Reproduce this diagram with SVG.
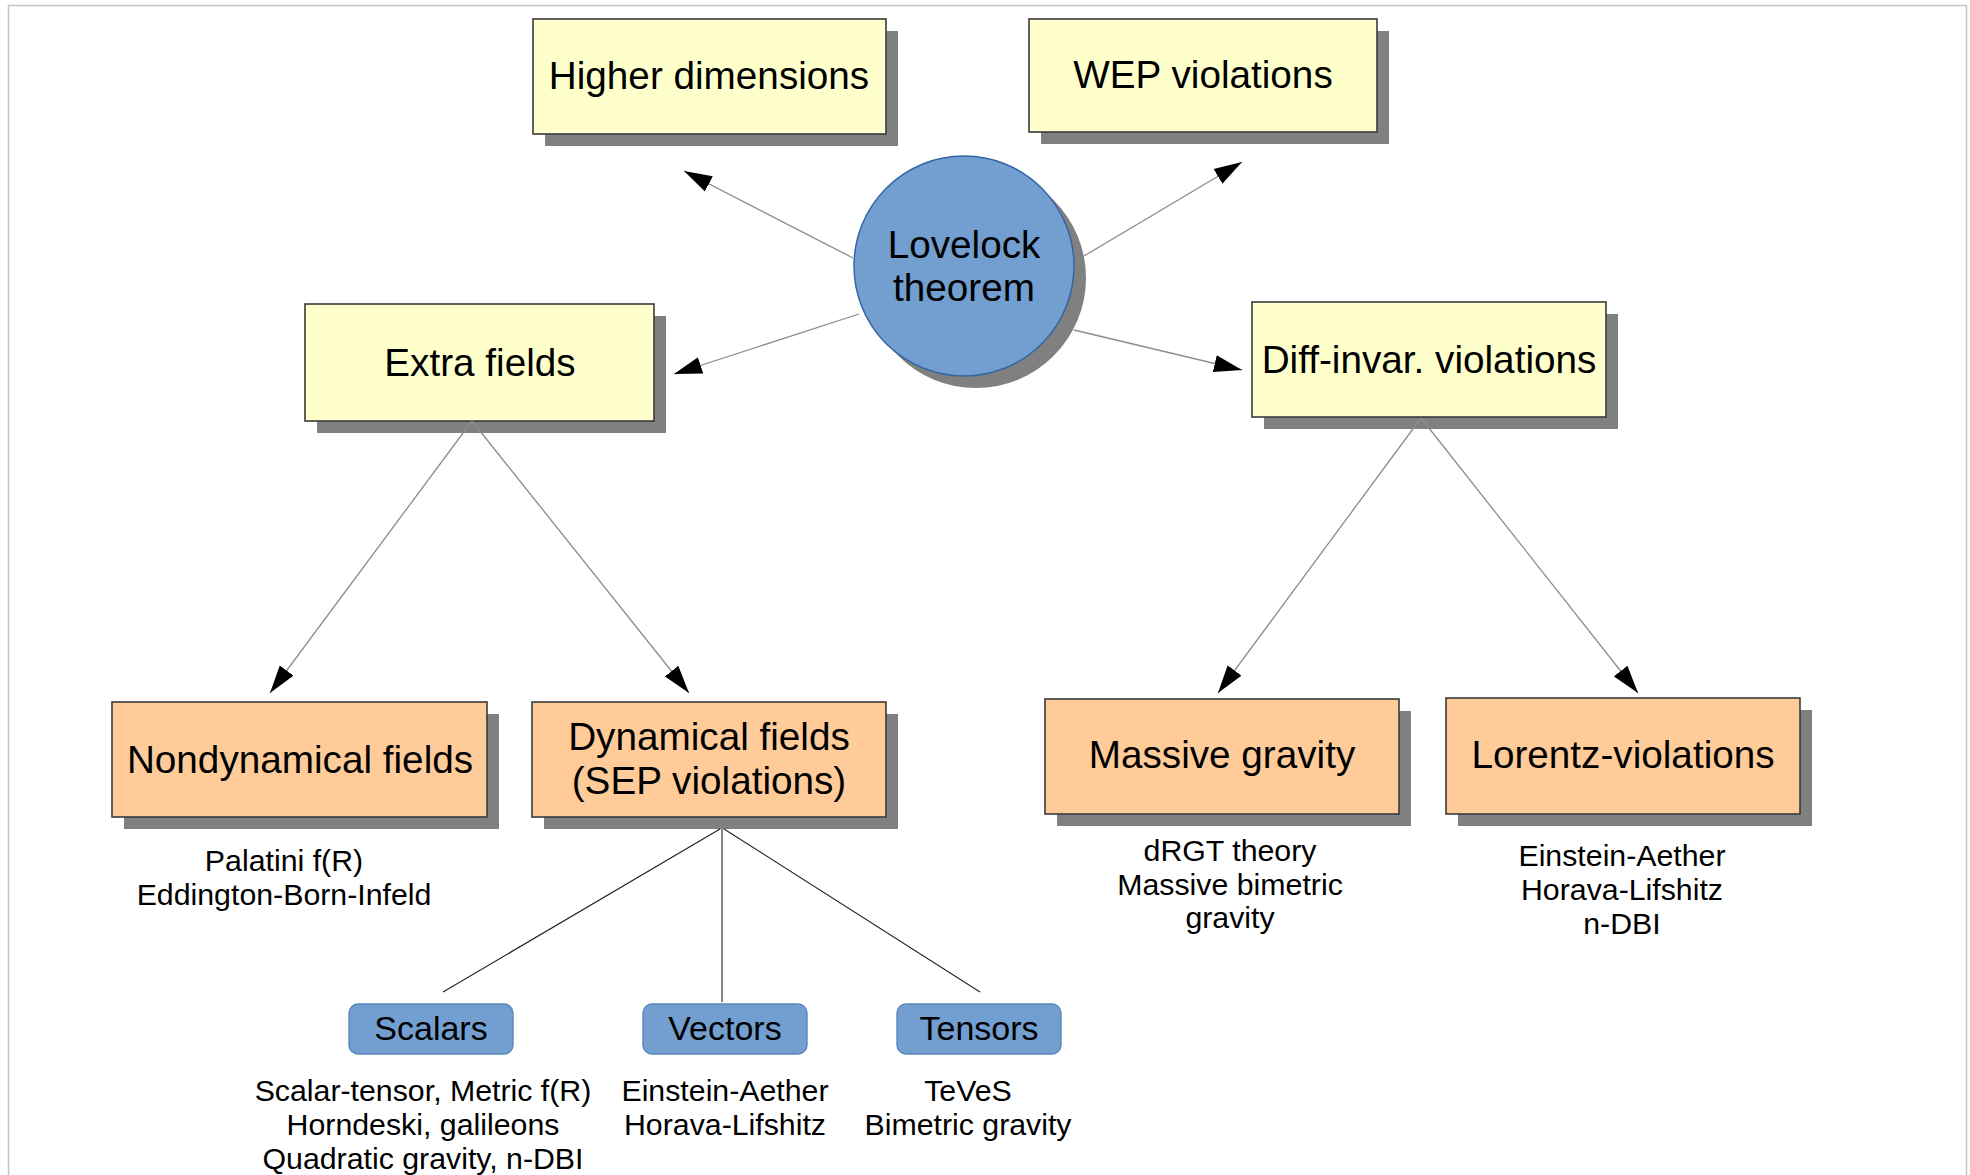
<svg xmlns="http://www.w3.org/2000/svg" width="1970" height="1175" viewBox="0 0 1970 1175">
<defs>
<style>
text{font-family:"Liberation Sans",Arial,sans-serif;fill:#000;text-anchor:middle}
.big{font-size:38.7px}
.mid{font-size:34px}
.sm{font-size:30.3px}
.shadow{fill:#808080}
.yel{fill:#ffffcc;stroke:#3a3a3a;stroke-width:1.6}
.org{fill:#ffcc99;stroke:#3a3a3a;stroke-width:1.6}
.blu{fill:#729fcf;stroke:#5b86bd;stroke-width:1.4}
.arr{stroke:#8c8c8c;stroke-width:1.3;fill:none;marker-end:url(#ah)}
.sub{stroke:#222;stroke-width:1.1;fill:none}
</style>
<marker id="ah" markerUnits="userSpaceOnUse" markerWidth="28" markerHeight="18" refX="26" refY="8" orient="auto" viewBox="0 0 26 16">
<path d="M0,0 L26,8 L0,16 z" fill="#000"/>
</marker>
</defs>
<rect width="1970" height="1175" fill="#fff"/>
<path d="M8.5,1175 V5.5 H1966.5 V1175" fill="none" stroke="#c4c4c4" stroke-width="1.5"/>

<g id="higher-dimensions">
<rect class="shadow" x="545" y="31" width="353" height="115"/>
<rect class="yel" x="533" y="19" width="353" height="115"/>
<text class="big" x="709" y="89">Higher dimensions</text>
</g>

<g id="wep-violations">
<rect class="shadow" x="1041" y="31" width="348" height="113"/>
<rect class="yel" x="1029" y="19" width="348" height="113"/>
<text class="big" x="1203" y="88">WEP violations</text>
</g>

<g id="lovelock">
<circle class="shadow" cx="976" cy="278" r="110"/>
<circle cx="964" cy="266" r="110" fill="#729fcf" stroke="#3465a4" stroke-width="1.5"/>
<text class="big" x="964" y="258">Lovelock</text>
<text class="big" x="964" y="301">theorem</text>
</g>

<g id="extra-fields">
<rect class="shadow" x="317" y="316" width="349" height="117"/>
<rect class="yel" x="305" y="304" width="349" height="117"/>
<text class="big" x="480" y="376">Extra fields</text>
</g>

<g id="diff-invar">
<rect class="shadow" x="1264" y="314" width="354" height="115"/>
<rect class="yel" x="1252" y="302" width="354" height="115"/>
<text class="big" x="1429" y="373">Diff-invar. violations</text>
</g>

<g id="nondynamical">
<rect class="shadow" x="124" y="714" width="375" height="115"/>
<rect class="org" x="112" y="702" width="375" height="115"/>
<text class="big" x="300" y="773">Nondynamical fields</text>
<text class="sm" x="284" y="871">Palatini f(R)</text>
<text class="sm" x="284" y="905">Eddington-Born-Infeld</text>
</g>

<g id="dynamical">
<rect class="shadow" x="544" y="714" width="354" height="115"/>
<rect class="org" x="532" y="702" width="354" height="115"/>
<text class="big" x="709" y="750">Dynamical fields</text>
<text class="big" x="709" y="794">(SEP violations)</text>
</g>

<g id="massive-gravity">
<rect class="shadow" x="1057" y="711" width="354" height="115"/>
<rect class="org" x="1045" y="699" width="354" height="115"/>
<text class="big" x="1222" y="768">Massive gravity</text>
<text class="sm" x="1230" y="861">dRGT theory</text>
<text class="sm" x="1230" y="895">Massive bimetric</text>
<text class="sm" x="1230" y="928">gravity</text>
</g>

<g id="lorentz-violations">
<rect class="shadow" x="1458" y="710" width="354" height="116"/>
<rect class="org" x="1446" y="698" width="354" height="116"/>
<text class="big" x="1623" y="768">Lorentz-violations</text>
<text class="sm" x="1622" y="866">Einstein-Aether</text>
<text class="sm" x="1622" y="900">Horava-Lifshitz</text>
<text class="sm" x="1622" y="934">n-DBI</text>
</g>

<g id="scalars">
<rect class="blu" x="349" y="1004" width="164" height="50" rx="9"/>
<text class="mid" x="431" y="1040">Scalars</text>
<text class="sm" x="423" y="1101">Scalar-tensor, Metric f(R)</text>
<text class="sm" x="423" y="1135">Horndeski, galileons</text>
<text class="sm" x="423" y="1169">Quadratic gravity, n-DBI</text>
</g>

<g id="vectors">
<rect class="blu" x="643" y="1004" width="164" height="50" rx="9"/>
<text class="mid" x="725" y="1040">Vectors</text>
<text class="sm" x="725" y="1101">Einstein-Aether</text>
<text class="sm" x="725" y="1135">Horava-Lifshitz</text>
</g>

<g id="tensors">
<rect class="blu" x="897" y="1004" width="164" height="50" rx="9"/>
<text class="mid" x="979" y="1040">Tensors</text>
<text class="sm" x="968" y="1101">TeVeS</text>
<text class="sm" x="968" y="1135">Bimetric gravity</text>
</g>

<g id="connectors">
<line class="arr" x1="853" y1="258" x2="684" y2="171"/>
<line class="arr" x1="1084" y1="256" x2="1242" y2="162"/>
<line class="arr" x1="859" y1="314" x2="674" y2="374"/>
<line class="arr" x1="1074" y1="330" x2="1242" y2="370"/>
<line class="arr" x1="472" y1="421" x2="270" y2="693"/>
<line class="arr" x1="472" y1="421" x2="689" y2="693"/>
<line class="arr" x1="1421" y1="418" x2="1218" y2="693"/>
<line class="arr" x1="1421" y1="418" x2="1638" y2="693"/>
<line class="sub" x1="720" y1="829" x2="443" y2="992"/>
<line class="sub" x1="722" y1="829" x2="722" y2="1002"/>
<line class="sub" x1="724" y1="829" x2="980" y2="992"/>
</g>
</svg>
